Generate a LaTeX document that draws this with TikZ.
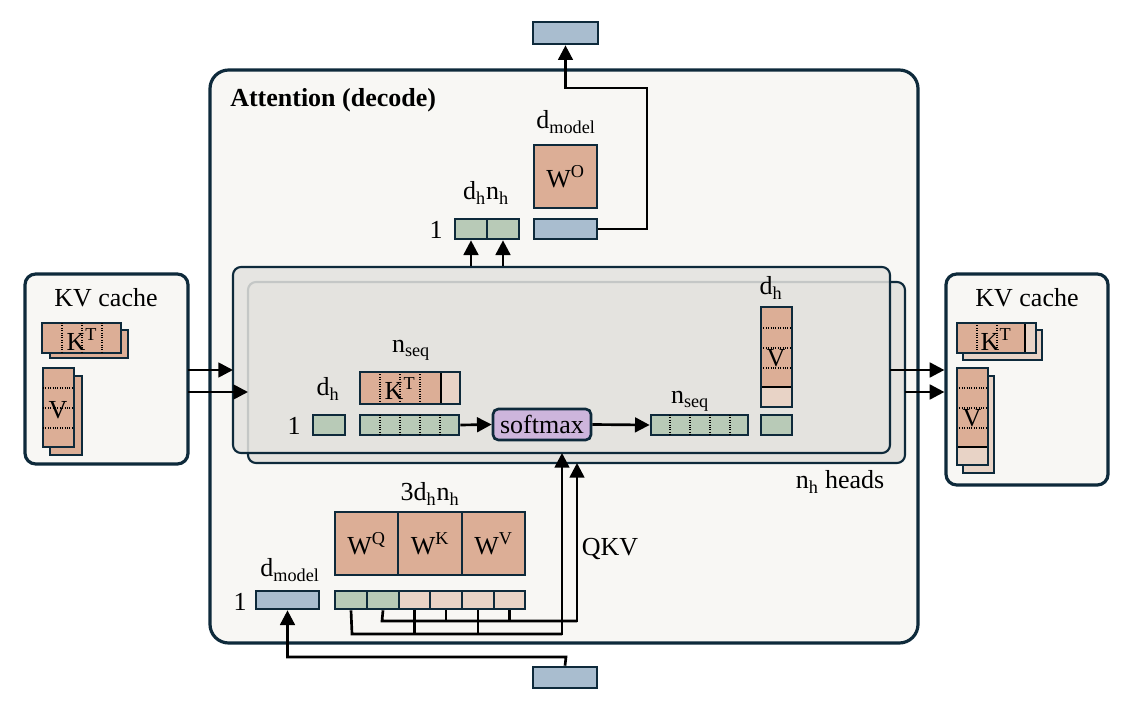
\documentclass[tikz,border=0pt]{standalone}
\usepackage{fontspec}
\setmainfont{Liberation Serif}
\usetikzlibrary{fit,arrows.meta}
\definecolor{dk}{HTML}{0E2A3B}
\definecolor{pch}{HTML}{DCAE96}
\definecolor{lpch}{HTML}{E8D3C6}
\definecolor{grn}{HTML}{B8CAB7}
\definecolor{blu}{HTML}{A9BDCF}
\definecolor{pur}{HTML}{CDB5DC}
\definecolor{bg}{HTML}{F8F7F4}
\definecolor{hd}{HTML}{E4E3DF}
\tikzset{
 cell/.style={draw=dk,line width=2pt,inner sep=0pt},
 frame/.style={draw=dk,line width=2.4pt,rounded corners=8pt,fill=bg,inner sep=0pt},
 wire/.style={line width=2pt,black},
 arr/.style={wire,-{Triangle[length=11pt,width=11pt]}},
 lab/.style={font=\fontsize{19.5}{21}\selectfont,inner sep=0pt},
 dv/.style={densely dotted,line width=0.8pt,black},
}
\newcommand{\sub}[1]{\textsubscript{#1}}
\newcommand{\sups}[1]{\textsuperscript{#1}}
\begin{document}
\begin{tikzpicture}[x=0.75pt,y=-0.75pt]
\useasboundingbox (0,0) rectangle (1132,713);
% main frame
\node[frame,rounded corners=14pt,fit={(210,70)(918,643)}] (main) {};
\node[lab,anchor=west,font=\fontsize{19.5}{21}\selectfont\bfseries] (title) at (230,100) {Attention (decode)};
% heads
\node[draw=dk,line width=1.6pt,rounded corners=6pt,fill=hd,fit={(248,282)(905,463)},inner sep=0pt] (back) {};
\node[draw=dk,line width=1.6pt,rounded corners=6pt,fill=hd,fill opacity=0.85,fit={(233,267)(890,453)},inner sep=0pt] (front) {};
\node[lab] (nh) at (840,482) {n\sub{h} heads};
% KV caches
\node[frame,fit={(25,274)(188,464)}] (kvl) {};
\node[lab] at (106,298) {KV cache};
\node[cell,fill=pch,fit={(50,330)(128,358)}] (klb) {};
\node[cell,fill=pch,fit={(42,323)(121,353)}] (klf) {};
\foreach \x in {62,82,102} \draw[dv] (\x,323)--(\x,353);
\node[lab] at (82,340) {K\sups{T}};
\node[cell,fill=pch,fit={(50,376)(82,455)}] (vlb) {};
\node[cell,fill=pch,fit={(43,368)(74,447)}] (vlf) {};
\foreach \y in {388,408,428} \draw[dv] (43,\y)--(74,\y);
\node[lab] at (58,410) {V};

\node[frame,fit={(946,274)(1108,485)}] (kvr) {};
\node[lab] at (1027,298) {KV cache};
\node[cell,fill=lpch,fit={(963,330)(1042,360)}] (krb) {};
\node[cell,fill=lpch,fit={(957,323)(1036,353)}] (krf) {};
\fill[pch] (958,324) rectangle (1025,352);
\draw[line width=2pt,black] (1025,323)--(1025,353);
\foreach \x in {977,997} \draw[dv] (\x,323)--(\x,353);
\node[lab] at (996,340) {K\sups{T}};
\node[cell,fill=lpch,fit={(963,376)(994,473)}] (vrb) {};
\node[cell,fill=lpch,fit={(957,368)(988,465)}] (vrf) {};
\fill[pch] (958,369) rectangle (987,447);
\draw[line width=2pt,black] (957,447)--(988,447);
\foreach \y in {388,408,428} \draw[dv] (957,\y)--(988,\y);
\node[lab] at (972,418) {V};
\node[cell,fit={(957,368)(988,465)}] {};
\node[cell,fit={(957,323)(1036,353)}] {};

% arrows cache
\coordinate (l1) at (188,370); \coordinate (l2) at (188,392);
\draw[arr] (l1) -- (233,370);
\draw[arr] (l2) -- (248,392);
\draw[arr] (890,370) -- (kvr.west |- 0,370);
\draw[arr] (905,392) -- (kvr.west |- 0,392);

% inside head
\node[lab] at (328,389) {d\sub{h}};
\node[lab] at (294,426) {1};
\node[cell,fill=grn,fit={(313,415)(345,435)}] (q) {};
\node[lab] at (411,350) {n\sub{seq}};
\node[cell,fill=lpch,fit={(360,372)(460,404)}] (kt) {};
\fill[pch] (361,373) rectangle (441,403);
\draw[line width=2pt,black] (441,372)--(441,404);
\foreach \x in {380,400,420} \draw[dv] (\x,372)--(\x,404);
\node[lab] at (400,389) {K\sups{T}};
\node[cell,fit={(360,372)(460,404)}] {};
\node[cell,fill=grn,fit={(360,415)(459,435)}] (sc) {};
\foreach \x in {380,400,420,440} \draw[dv] (\x,415)--(\x,435);
\node[draw=dk,line width=2pt,rounded corners=4pt,fill=pur,fit={(493,409)(591,440)},inner sep=0pt] (sm) {};
\node[lab] at (sm) {softmax};
\node[cell,fill=grn,fit={(651,415)(748,435)}] (pr) {};
\foreach \x in {670,690,710,730} \draw[dv] (\x,415)--(\x,435);
\node[lab] at (690,401) {n\sub{seq}};
\node[lab] at (771,288) {d\sub{h}};
\node[cell,fill=lpch,fit={(761,307)(792,407)}] (v) {};
\fill[pch] (762,308) rectangle (791,387);
\draw[line width=2pt,black] (761,387)--(792,387);
\foreach \y in {328,348,368} \draw[dv] (761,\y)--(792,\y);
\node[lab] at (776,358) {V};
\node[cell,fit={(761,307)(792,407)}] {};
\node[cell,fill=grn,fit={(761,415)(792,435)}] (o) {};
\draw[arr] (sc.east) -- (sm.west);
\draw[arr] (sm.east) -- (pr.west);

% top
\node[lab] at (486,193) {d\sub{h}n\sub{h}};
\node[lab] at (436,230) {1};
\node[cell,fill=grn,fit={(455,219)(487,239)}] (c1) {};
\node[cell,fill=grn,fit={(487,219)(519,239)}] (c2) {};
\node[lab] at (566,122) {d\sub{model}};
\node[cell,fill=pch,fit={(534,145)(597,208)}] (wo) {};
\node[lab] at (wo) {W\sups{O}};
\node[cell,fill=blu,fit={(534,219)(597,239)}] (ob) {};
\node[cell,fill=blu,fit={(533,22)(598,44)}] (out) {};
\draw[arr] (c1.south |- front.north) -- (c1.south);
\draw[arr] (c2.south |- front.north) -- (c2.south);
\draw[arr] (ob.east) -| (647,88) -| (out.south);

% bottom
\node[lab] at (430,494) {3d\sub{h}n\sub{h}};
\node[cell,fill=pch,fit={(335,512)(398,575)}] (wq) {};
\node[cell,fill=pch,fit={(398,512)(462,575)}] (wk) {};
\node[cell,fill=pch,fit={(462,512)(525,575)}] (wv) {};
\node[lab] at (wq) {W\sups{Q}};
\node[lab] at (wk) {W\sups{K}};
\node[lab] at (wv) {W\sups{V}};
\node[lab] at (290,570) {d\sub{model}};
\node[lab] at (240,602) {1};
\node[cell,fill=blu,fit={(256,591)(319,609)}] (x) {};
\foreach \i/\a/\b/\c in {1/335/367/grn,2/367/399/grn,3/399/430/lpch,4/430/462/lpch,5/462/494/lpch,6/494/525/lpch}
  \node[cell,fill=\c,fit={(\a,591)(\b,609)}] (p\i) {};
\draw[wire] (p1.south) -- (352,634) -- (562,634);
\draw[wire] (p3.south) -- (p3.south |- 0,634);
\draw[wire] (p5.south) -- (p5.south |- 0,634);
\draw[arr] (562,635) -- (562,453);
\draw[wire] (p2.south) -- (382,621) -- (577,621);
\draw[wire] (p4.south) -- (p4.south |- 0,621);
\draw[wire] (p6.south) -- (p6.south |- 0,621);
\draw[arr] (577,622) -- (577,463);
\node[lab] at (610,549) {QKV};
\node[cell,fill=blu,fit={(533,667)(597,688)}] (in) {};
\draw[arr] (in.north) -- (566,657) -| (x.south);
\end{tikzpicture}
\end{document}
